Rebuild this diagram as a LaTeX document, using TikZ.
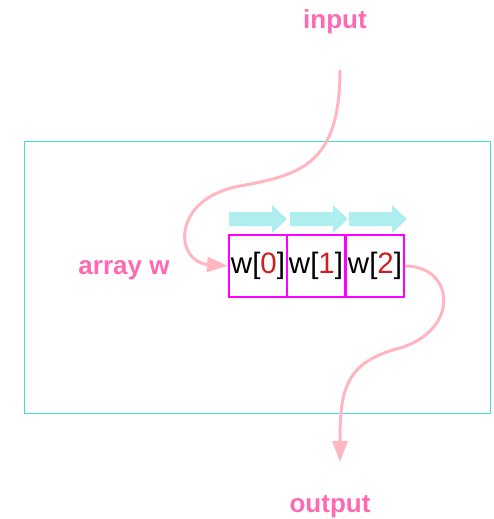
\documentclass[tikz,border=0pt]{standalone}
\usepackage{fontspec}
\setmainfont{Liberation Sans}
\usetikzlibrary{arrows.meta}
\definecolor{hpink}{HTML}{FF69B4}
\definecolor{lpink}{HTML}{FFB6C1}
\definecolor{turq}{HTML}{40E0D0}
\definecolor{pturq}{HTML}{AFEEEE}
\definecolor{digit}{HTML}{CC1F1F}
\definecolor{mag}{HTML}{FF00FF}
\tikzset{
  lbl/.style={text=hpink, font=\fontsize{26}{29}\selectfont\bfseries, inner sep=0pt},
  cell/.style={draw=mag, line width=2pt, minimum width=58pt, minimum height=62pt, inner sep=0pt, font=\fontsize{29.5}{32}\selectfont},
  flow/.style={draw=lpink, line width=3pt, -{Triangle[length=21pt,width=15pt]}},
  cluster/.style={draw=turq, line width=1pt},
}
\newcommand{\wcell}[1]{w[{\color{digit}#1}]}
\begin{document}
\begin{tikzpicture}[x=1pt,y=-1pt]
\useasboundingbox (0,0) rectangle (494,519);
\draw[cluster] (24,141) rectangle (490,413);
\node[lbl] (input) at (335,22) {input};
\node[lbl] (arrw) at (124,270) {array w};
\node[lbl] (output) at (330,507) {output};
\node[cell] (w0) at (258,266) {\wcell{0}};
\node[cell] (w1) at (316,266) {\wcell{1}};
\node[cell] (w2) at (375,266) {\wcell{2}};
\foreach \x in {229,290,349}{
  \fill[pturq] (\x,212) -- (\x+43,212) -- (\x+43,205) -- (\x+58,219) -- (\x+43,233) -- (\x+43,226) -- (\x,226) -- cycle;
}
\coordinate (inS) at (340,70);
\coordinate (outE) at (340,462);
\draw[flow] (inS) .. controls (340,165) and (300,175) .. (240,186)
  .. controls (170,199) and (175,262) .. (w0.west);
\draw[flow] (w2.east) .. controls (455,266) and (460,330) .. (400,348)
  .. controls (345,362) and (340,390) .. (outE);
\end{tikzpicture}
\end{document}
